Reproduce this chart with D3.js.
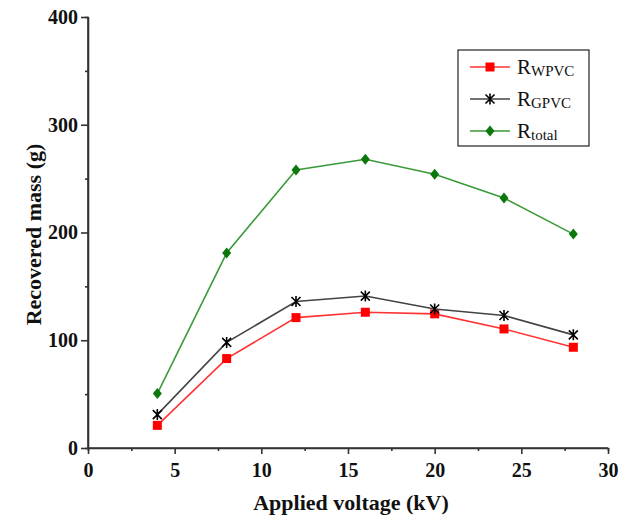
<!DOCTYPE html>
<html>
<head>
<meta charset="utf-8">
<script src="https://cdn.jsdelivr.net/npm/d3@7"></script>
<style>
  body { margin: 0; background: #fff; }
  text { font-family: "Liberation Serif", "DejaVu Serif", serif; }
</style>
</head>
<body>
<div id="plot"></div>
<script>
// chart data
const voltage = [4, 8, 12, 16, 20, 24, 28];
const rWPVC = [21, 83, 121, 126, 124.5, 110.5, 93.5];
const rGPVC = [31, 98, 136, 141, 129, 123, 105];
const rTotal = [50.5, 181, 258, 268, 254, 232, 198.5];
const xTicks = [0, 5, 10, 15, 20, 25, 30];
const yTicks = [0, 100, 200, 300, 400];

const series = [
  {name: 'R', sub: 'WPVC', values: rWPVC, line: '#ff3333', mark: '#ff0000', shape: 'square'},
  {name: 'R', sub: 'GPVC', values: rGPVC, line: '#444444', mark: '#000000', shape: 'star'},
  {name: 'R', sub: 'total', values: rTotal, line: '#3a9a3a', mark: '#0a780a', shape: 'diamond'}
];

const W = 640, H = 521;
const margins = {top: 17, bottom: 73, left: 88, right: 32};

const svg = d3.select('#plot').append('svg')
  .attr('width', W)
  .attr('height', H);

const x = d3.scaleLinear().domain([0, 30]).range([margins.left, W - margins.right]);
const y = d3.scaleLinear().domain([0, 400]).range([H - margins.bottom, margins.top]);

// axes
const xAxis = svg.append('g')
  .attr('transform', 'translate(0,' + y(0) + ')')
  .call(d3.axisBottom(x).tickValues(xTicks).tickSize(6).tickPadding(9));
svg.append('g')
  .attr('transform', 'translate(0,' + y(0) + ')')
  .call(d3.axisBottom(x).tickValues(d3.range(2.5, 30, 5)).tickSize(3).tickFormat(''));

const yAxis = svg.append('g')
  .attr('transform', 'translate(' + x(0) + ',0)')
  .call(d3.axisLeft(y).tickValues(yTicks).tickSize(7).tickPadding(3));
svg.append('g')
  .attr('transform', 'translate(' + x(0) + ',0)')
  .call(d3.axisLeft(y).tickValues(d3.range(50, 400, 100)).tickSize(3).tickFormat(''));

svg.selectAll('.domain, .tick line')
  .attr('stroke', '#333')
  .attr('stroke-width', 1.6);
xAxis.select('.domain').attr('d', 'M' + x(0) + ',0H' + x(30));
yAxis.select('.domain').attr('d', 'M0,' + y(0) + 'V' + y(400));

svg.selectAll('.tick text')
  .attr('font-family', '"Liberation Serif", serif')
  .attr('font-weight', 'bold')
  .attr('font-size', 20)
  .attr('fill', '#111');

// axis titles
svg.append('text')
  .attr('x', (x(0) + x(30)) / 2 + 3)
  .attr('y', 510)
  .attr('text-anchor', 'middle')
  .attr('font-weight', 'bold')
  .attr('font-size', 22)
  .attr('fill', '#111')
  .text('Applied voltage (kV)');

svg.append('text')
  .attr('transform', 'translate(41,' + (y(200) + 2) + ') rotate(-90)')
  .attr('text-anchor', 'middle')
  .attr('font-weight', 'bold')
  .attr('font-size', 22)
  .attr('fill', '#111')
  .text('Recovered mass (g)');

// marker drawing
function drawMarker(g, shape, color) {
  if (shape === 'square') {
    g.append('rect').attr('x', -4.5).attr('y', -4.5).attr('width', 9).attr('height', 9).attr('fill', color);
  } else if (shape === 'diamond') {
    g.append('path').attr('d', 'M0,-5.5L4.5,0L0,5.5L-4.5,0Z').attr('fill', color);
  } else {
    g.append('path')
      .attr('d', 'M-4.5,-4.5L4.5,4.5M4.5,-4.5L-4.5,4.5M0,-5.5V5.5')
      .attr('stroke', color).attr('stroke-width', 1.6).attr('fill', 'none');
  }
}

const line = d3.line().x((d, i) => x(voltage[i])).y(d => y(d));

series.forEach(s => {
  svg.append('path')
    .datum(s.values)
    .attr('d', line)
    .attr('fill', 'none')
    .attr('stroke', s.line)
    .attr('stroke-width', 1.6);
  s.values.forEach((v, i) => {
    const g = svg.append('g').attr('transform', 'translate(' + [x(voltage[i]), y(v)] + ')');
    drawMarker(g, s.shape, s.mark);
  });
});

// legend
const legend = svg.append('g').attr('transform', 'translate(458,50)');
legend.append('rect')
  .attr('width', 131).attr('height', 96)
  .attr('fill', '#fff').attr('stroke', '#222').attr('stroke-width', 1.2);

series.forEach((s, i) => {
  const row = legend.append('g').attr('transform', 'translate(0,' + (17 + i * 32) + ')');
  row.append('line').attr('x1', 12).attr('x2', 52).attr('y1', 0).attr('y2', 0)
    .attr('stroke', s.line).attr('stroke-width', 1.6);
  drawMarker(row.append('g').attr('transform', 'translate(32,0)'), s.shape, s.mark);
  const t = row.append('text').attr('x', 59).attr('y', 7).attr('font-size', 21).attr('fill', '#111');
  t.append('tspan').text(s.name);
  t.append('tspan').attr('font-size', 15).attr('dy', 2).text(s.sub);
});
</script>
</body>
</html>
